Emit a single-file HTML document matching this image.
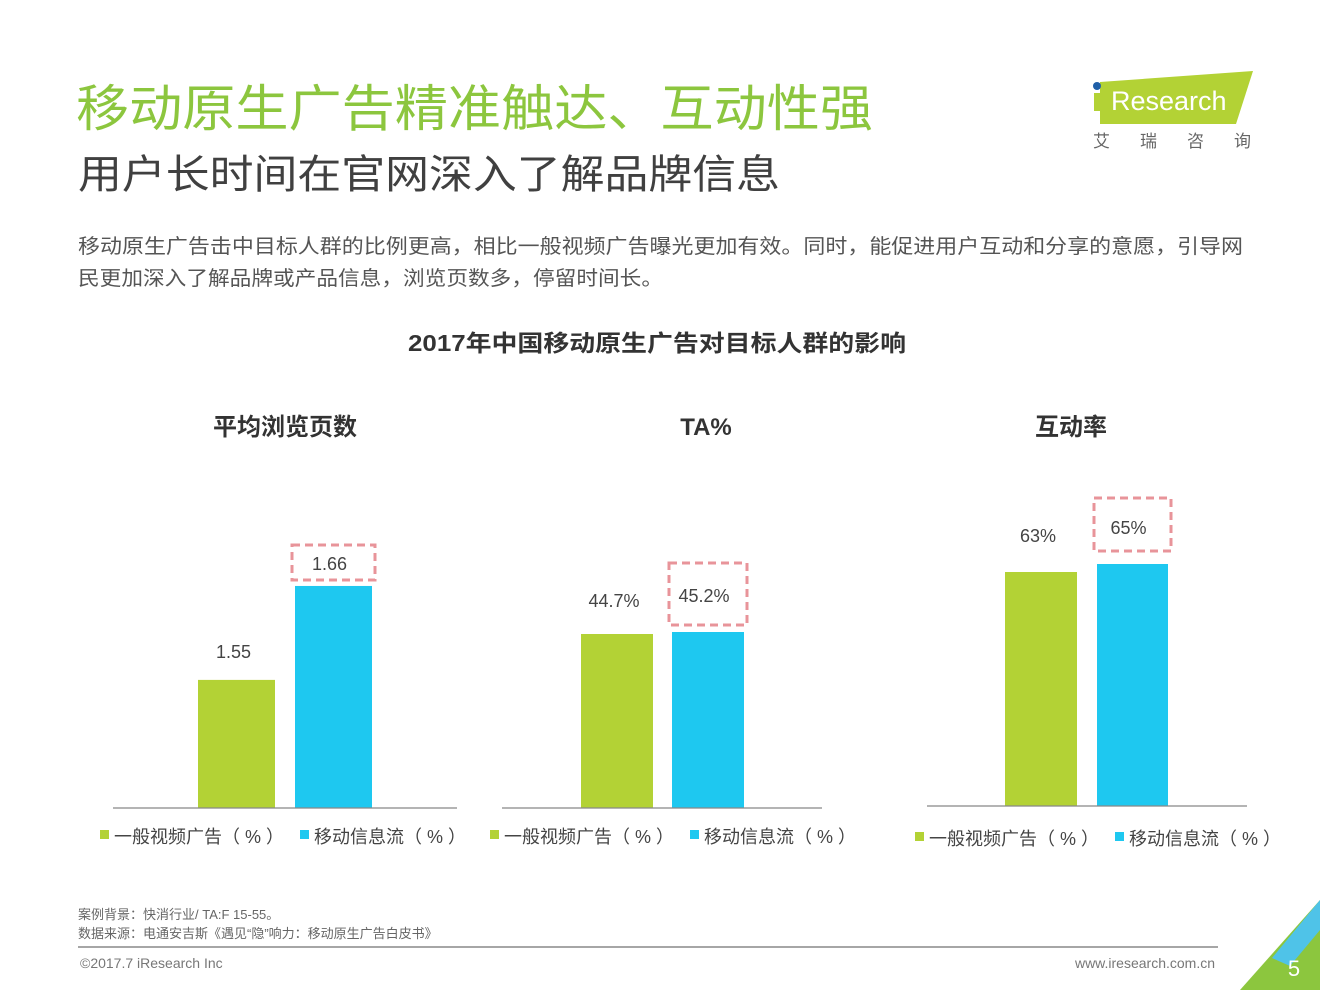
<!DOCTYPE html>
<html><head><meta charset="utf-8"><style>
body{margin:0;width:1320px;height:990px;background:#fff;overflow:hidden;font-family:"Liberation Sans","Noto Sans CJK SC",sans-serif;}
svg{position:absolute;left:0;top:0}
</style></head><body>
<svg width="1320" height="990">
<text x="76" y="126" font-size="50" fill="#8cc63e" textLength="797" lengthAdjust="spacingAndGlyphs">移动原生广告精准触达、互动性强</text>
<text x="78" y="188" font-size="40" fill="#404040" textLength="702" lengthAdjust="spacingAndGlyphs">用户长时间在官网深入了解品牌信息</text>
<g>
<polygon points="1100,82 1253,71 1236,124 1100,124" fill="#b3d235"/>
<circle cx="1097" cy="86" r="4" fill="#1f5fa8"/>
<rect x="1094" y="93" width="6" height="18" fill="#b3d235"/>
<text x="1111" y="110" font-size="27" fill="#fff">Research</text>
<text x="1093" y="147" font-size="17" fill="#666" letter-spacing="30">艾瑞咨询</text>
</g>
<text x="78" y="253" font-size="20" fill="#555" textLength="1165" lengthAdjust="spacingAndGlyphs">移动原生广告击中目标人群的比例更高，相比一般视频广告曝光更加有效。同时，能促进用户互动和分享的意愿，引导网</text>
<text x="78" y="285" font-size="20" fill="#555" textLength="585" lengthAdjust="spacingAndGlyphs">民更加深入了解品牌或产品信息，浏览页数多，停留时间长。</text>
<text x="408" y="351" font-size="23" font-weight="bold" fill="#333" textLength="498" lengthAdjust="spacingAndGlyphs">2017年中国移动原生广告对目标人群的影响</text>
<g id="charts"></g>
<text x="78" y="919" font-size="13" fill="#666">案例背景：快消行业/ TA:F 15-55。</text>
<text x="78" y="938" font-size="13" fill="#666">数据来源：电通安吉斯《遇见“隐”响力：移动原生广告白皮书》</text>
<line x1="78" y1="947" x2="1218" y2="947" stroke="#888" stroke-width="1.5"/>
<text x="80" y="968" font-size="14" fill="#777">©2017.7 iResearch Inc</text>
<text x="1215" y="968" font-size="14" fill="#777" text-anchor="end">www.iresearch.com.cn</text>
<polygon points="1320,900 1320,990 1240,990" fill="#8cc63e"/>
<polygon points="1320,900 1272,958 1290,966 1320,930" fill="#4fc3e8"/>
<text x="1294" y="976" font-size="22" fill="#fff" text-anchor="middle">5</text>
</svg>
<script>
const chartTitles=["平均浏览页数","TA%","互动率"];
const seriesNames=["一般视频广告（ % ）","移动信息流（ % ）"];
const generalValues=[1.55,44.7,63];
const feedValues=[1.66,45.2,65];
const valueLabels=[["1.55","1.66"],["44.7%","45.2%"],["63%","65%"]];
const layouts=[
 {x0:113,x1:457,base:808,min:1.40,k:854,gx:198,gw:77,bx:295,bw:77,tx:285,lx:100,gl:22,fl:16,bt:41,bh:35},
 {x0:502,x1:822,base:808,min:1.2,k:4,gx:581,gw:72,bx:672,bw:72,tx:706,lx:490,gl:27,fl:30,bt:69,bh:62},
 {x0:927,x1:1247,base:806,min:4.5,k:4,gx:1005,gw:72,bx:1097,bw:71,tx:1071,lx:915,gl:30,fl:30,bt:66,bh:53}];
const NS="http://www.w3.org/2000/svg";
const g=document.getElementById('charts');
function el(t,a,p){const e=document.createElementNS(NS,t);for(const k in a)e.setAttribute(k,a[k]);(p||g).appendChild(e);return e;}
layouts.forEach((L,i)=>{
 const y=v=>L.base-(v-L.min)*L.k;
 let t=el('text',{x:L.tx,y:435,'font-size':24,'font-weight':'bold',fill:'#333','text-anchor':'middle'});t.textContent=chartTitles[i];
 
 
 const yg=y(generalValues[i]),yb=y(feedValues[i]);
 let r=el('rect',{x:L.gx,y:yg,width:L.gw,height:L.base-yg,fill:'#b3d235'});
 
 
 r=el('rect',{x:L.bx,y:yb,width:L.bw,height:L.base-yb,fill:'#1ec8f0'});
 
 
 el('line',{x1:L.x0,y1:L.base,x2:L.x1,y2:L.base,stroke:'#888','stroke-width':1.2});
 t=el('text',{x:L.gx+L.gw/2-3,y:yg-L.gl,'font-size':18,fill:'#444','text-anchor':'middle'});t.textContent=valueLabels[i][0];
 
 
 t=el('text',{x:L.bx+L.bw/2-4,y:yb-L.fl,'font-size':18,fill:'#444','text-anchor':'middle'});t.textContent=valueLabels[i][1];
 
 
 r=el('rect',{x:L.bx-3,y:yb-L.bt,width:L.bw+6,height:L.bh,fill:'none',stroke:'#e8949a','stroke-width':3,'stroke-dasharray':'8,5'});
 
 
 const ly=i==2?839:837;
 el('rect',{x:L.lx,y:ly-7,width:9,height:9,fill:'#b3d235'});
 t=el('text',{x:L.lx+14,y:ly+6,'font-size':18,fill:'#444'});t.textContent=seriesNames[0];
 
 
 el('rect',{x:L.lx+200,y:ly-7,width:9,height:9,fill:'#1ec8f0'});
 t=el('text',{x:L.lx+214,y:ly+6,'font-size':18,fill:'#444'});t.textContent=seriesNames[1];
 
 
});
</script>
</body></html>
